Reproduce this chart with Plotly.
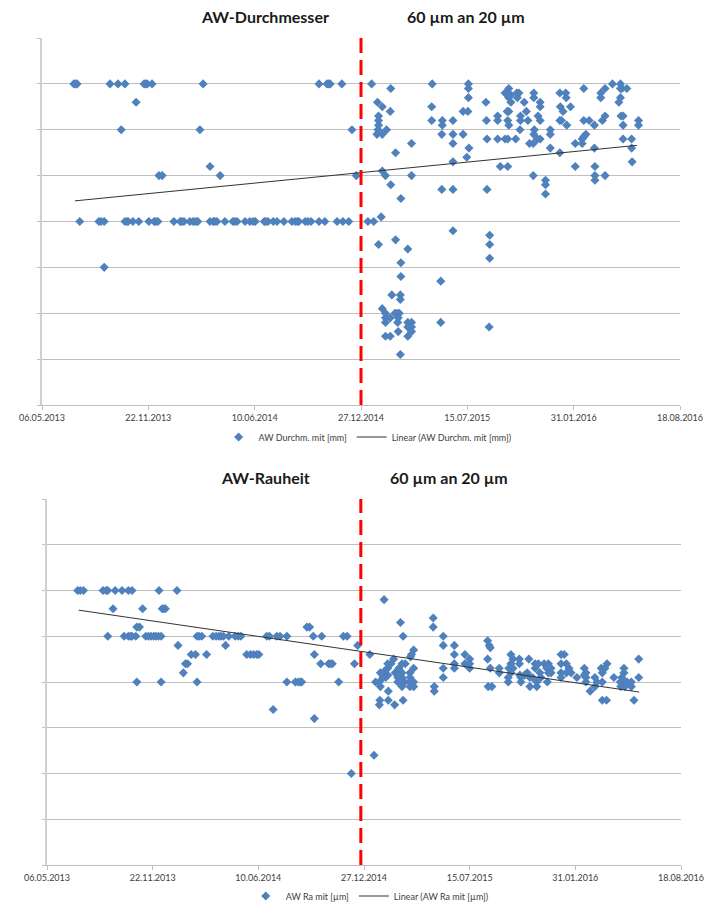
import numpy as np
import pandas as pd
import plotly.graph_objects as go

# ---------------- data ----------------
base_date = "2013-05-06"          # first tick
axis_end = "2016-08-18"           # last tick
tick_step_days = 200
cut_top = "2014-12-27"            # change 60 µm -> 20 µm (upper chart)
cut_bottom = "2014-12-21"         # change 60 µm -> 20 µm (lower chart)
tick_labels = ["06.05.2013", "22.11.2013", "10.06.2014", "27.12.2014",
               "15.07.2015", "31.01.2016", "18.08.2016"]

title_top = ["AW-Durchmesser", "60 µm an 20 µm"]
title_bottom = ["AW-Rauheit", "60 µm an 20 µm"]
name_d = "AW Durchm. mit [mm]"
name_r = "AW Ra mit [µm]"

# AW diameter: days after base_date, value in grid units
d_days = [60, 63, 66, 128, 143, 156, 192, 195, 198, 207, 303, 521, 536, 539, 542, 564,
          177, 149, 297, 583, 316, 220, 226, 335, 591,
          71, 107, 111, 117, 156, 160, 162, 171, 182, 201, 211, 214, 218, 248, 260, 263,
          267, 278, 284, 288, 292, 293, 316, 322, 325, 329, 344, 359, 363, 367, 382, 391,
          397, 401, 418, 421, 425, 435, 442, 455, 470, 476, 480, 483, 495, 500, 506, 521,
          532, 555, 566, 577, 117,
          620, 656, 631, 640, 655, 633, 633, 633, 632, 630, 640, 648, 665, 695, 640, 646,
          656, 675, 695, 613, 624, 638, 633, 665, 688, 675, 675, 658, 674, 674, 640, 646,
          646, 646, 655, 664, 668, 672, 670, 669, 646, 655, 670, 688, 688, 688, 695, 695,
          695, 692, 674, 750, 750, 841, 734, 733, 733, 753, 753, 752, 773, 773, 773, 773,
          752, 773, 773, 792, 792, 802, 802, 802, 801, 803, 799, 835, 836, 837, 837, 842,
          842, 842, 857, 857, 857, 862, 871, 871, 876, 876, 891, 878, 878, 876, 881, 878,
          882, 893, 897, 894, 907, 875, 878, 876, 878, 900, 900, 911, 914, 899, 917, 924,
          925, 926, 925, 925, 937, 937, 933, 937, 932, 937, 956, 956, 956, 924, 947, 947,
          947, 974, 985, 986, 975, 994, 980, 974, 977, 987, 974, 1003, 1003, 1019, 1019,
          1029, 1039, 1016, 1019, 1023, 1016, 1039, 1040, 1040, 1040, 1059, 1051, 1051,
          1059, 1073, 1054, 1059, 1088, 1088, 1091, 1100, 1088, 1085, 1089, 1093, 1093,
          1093, 1109, 1109, 1110, 1122, 1122]
d_vals = [7, 7, 7, 7, 7, 7, 7, 7, 7, 7, 7, 7, 7, 7, 7, 7,
          6.6, 6, 6, 6, 5.2, 5, 5, 5, 5,
          4, 4, 4, 4, 4, 4, 4, 4, 4, 4, 4, 4, 4, 4, 4, 4,
          4, 4, 4, 4, 4, 4, 4, 4, 4, 4, 4, 4, 4, 4, 4, 4,
          4, 4, 4, 4, 4, 4, 4, 4, 4, 4, 4, 4, 4, 4, 4, 4,
          4, 4, 4, 4, 3,
          7.0, 6.9, 6.6, 6.5, 6.4, 6.3, 6.2, 6.1, 6.0, 5.9, 5.9, 6.0, 5.5, 5.7, 5.1, 5.0,
          4.8, 4.5, 5.0, 4.0, 4.0, 4.1, 3.5, 3.6, 3.4, 3.1, 2.8, 2.4, 2.4, 2.3, 2.1, 2.0,
          1.9, 1.8, 1.9, 2.0, 2.0, 2.0, 1.9, 1.8, 1.5, 1.5, 1.6, 1.8, 1.7, 1.5, 1.8, 1.7,
          1.6, 1.7, 1.1, 2.7, 1.8, 1.7, 7.0, 6.5, 6.2, 6.2, 6.1, 5.9, 6.2, 5.9, 5.7, 5.3,
          4.7, 4.7, 3.8, 6.4, 5.9, 7.0, 6.9, 6.7, 6.4, 5.6, 5.4, 6.6, 6.2, 5.8, 4.7, 3.7,
          3.5, 3.2, 6.3, 6.2, 5.8, 5.2, 6.8, 5.8, 5.2, 5.8, 5.8, 6.9, 6.8, 6.75, 6.75, 6.7,
          6.6, 6.8, 6.8, 6.7, 6.6, 6.4, 6.4, 6.2, 6.1, 6.3, 6.2, 6.4, 6.2, 6.0, 5.7, 5.7,
          5.9, 6.0, 6.8, 6.7, 6.6, 6.5, 6.3, 6.2, 5.8, 5.8, 6.0, 5.9, 5.6, 5.0, 4.9, 4.8,
          4.6, 6.8, 6.8, 6.7, 6.5, 6.5, 6.4, 6.2, 6.2, 6.1, 5.5, 5.7, 5.2, 6.9, 6.2,
          6.2, 6.1, 5.8, 5.85, 5.9, 5.7, 5.6, 5.2, 5.0, 4.9, 5.0, 6.8, 6.7,
          6.9, 7.0, 6.2, 6.3, 7.0, 6.9, 6.9, 6.9, 6.7, 6.6, 6.3, 6.3, 6.1,
          5.8, 5.8, 5.6, 5.3, 6.2, 6.1]
# linear trendline of the diameter series, read at its two ends
d_trend_days = [62, 1119]
d_trend_vals = [4.45, 5.66]

# AW roughness Ra: days after base_date, value in grid units
r_days = [58, 63, 69, 106, 112, 115, 129, 142, 154, 161, 212, 246,
          125, 181, 218, 221, 224, 170, 175, 492, 497,
          115, 146, 154, 158, 161, 168, 187, 192, 197, 202, 206, 211, 216, 284, 288, 293,
          314, 320, 325, 329, 334, 344, 356, 362, 367, 416, 421, 435, 441, 454, 504, 520,
          561, 568,
          248, 338, 588, 273, 281, 302, 378, 385, 391, 397, 401, 506,
          262, 266, 518, 533, 536, 540, 582, 258,
          170, 216, 284, 454, 470, 475, 479, 482, 552, 428, 506, 576,
          638, 611, 669, 674, 731, 731, 750, 750, 750, 750, 771, 771, 771, 771, 791, 791,
          800, 800, 800, 733, 733, 834, 837, 839, 834, 839, 835, 842, 856, 856,
          694, 690, 688, 694, 687, 687, 694, 694, 687, 687, 656, 651, 645, 645, 672, 678,
          666, 659, 664, 672, 672, 672, 677, 672, 664, 640, 640, 645, 631, 636, 641, 622,
          629, 631, 646, 630, 629, 646, 658, 674, 619,
          878, 882, 878, 874, 882, 878, 894, 894, 873, 873, 897, 897, 912, 909, 914, 914,
          924, 930, 924, 933, 941, 946, 949, 949, 935, 927, 927, 947, 954, 954, 973, 979,
          973, 973, 973, 983, 988, 983, 992, 1003, 1017, 1020, 1017, 1020, 1020, 1028,
          1037, 1041, 1037, 1049, 1051, 1060, 1056, 1051, 1051, 1059, 1073, 1092, 1092,
          1085, 1094, 1086, 1094, 1088, 1098, 1106, 1106, 1111, 1120, 1120, 904, 919, 895]
r_vals = [6, 6, 6, 6, 6, 6, 6, 6, 6, 6, 6, 6,
          5.6, 5.6, 5.6, 5.6, 5.6, 5.2, 5.2, 5.2, 5.2,
          5, 5, 5, 5, 5, 5, 5, 5, 5, 5, 5, 5, 5, 5, 5, 5,
          5, 5, 5, 5, 5, 5, 5, 5, 5, 5, 5, 5, 5, 5, 5, 5,
          5, 5,
          4.8, 4.8, 4.8, 4.6, 4.6, 4.6, 4.6, 4.6, 4.6, 4.6, 4.6, 4.6,
          4.4, 4.4, 4.4, 4.4, 4.4, 4.4, 4.4, 4.2,
          4, 4, 4, 4, 4, 4, 4, 4, 4, 3.4, 3.2, 2.0,
          5.8, 4.6, 5.3, 5.0, 5.4, 5.2, 5.0, 4.8, 4.3, 4.1, 4.8, 4.6, 4.4, 4.3, 4.6, 4.4,
          4.5, 4.4, 4.3, 3.9, 3.8, 4.9, 4.8, 4.75, 4.5, 4.3, 3.9, 3.9, 4.3, 4.2,
          4.7, 4.6, 4.55, 4.3, 4.2, 4.1, 4.0, 3.9, 4.0, 3.9, 4.5, 4.4, 4.4, 4.3, 4.4, 4.4,
          4.3, 4.2, 4.1, 4.2, 4.1, 4.0, 4.0, 3.9, 4.0, 4.25, 4.15, 4.15, 4.2, 4.1, 4.1, 4.0,
          4.0, 3.9, 3.8, 3.6, 3.5, 3.6, 3.5, 3.6, 2.4,
          4.6, 4.5, 4.4, 4.3, 4.3, 4.2, 4.5, 4.4, 4.1, 4.0, 4.1, 4.0, 4.5, 4.2, 4.1, 3.9,
          4.4, 4.4, 4.3, 4.2, 4.4, 4.3, 4.4, 4.2, 4.1, 4.0, 3.9, 4.0, 4.3, 4.2, 4.6, 4.6,
          4.4, 4.2, 4.1, 4.4, 4.3, 4.2, 4.2, 4.1, 4.3, 4.2, 4.15, 4.1, 4.0, 3.8,
          4.1, 4.0, 3.9, 4.3, 4.2, 4.4, 4.3, 4.0, 3.6, 3.6, 4.1, 4.3, 4.2,
          4.0, 4.0, 3.9, 3.9, 4.1, 4.0, 4.0, 3.9, 3.6, 4.5, 4.1, 4.15, 4.1, 4.15]
# linear trendline of the roughness series, read at its two ends
r_trend_days = [60, 1121]
r_trend_vals = [5.57, 3.78]

# ---------------- styling ----------------
W, H = 711, 906
BLUE = "#4F81BD"
GRID = "#BFBFBF"
AXIS = "#BFBFBF"
TXT = "#404040"
FONT = "Lato"


def to_dates(days):
    return pd.Timestamp(base_date) + pd.to_timedelta(np.asarray(days, dtype=float), unit="D")


fig = go.Figure()

# upper chart
fig.add_trace(go.Scatter(x=to_dates(d_days), y=d_vals, mode="markers", name=name_d,
                         marker=dict(symbol="diamond", size=7, color=BLUE),
                         xaxis="x", yaxis="y", legend="legend"))
fig.add_trace(go.Scatter(x=to_dates(d_trend_days), y=d_trend_vals, mode="lines",
                         name="Linear (" + name_d + ")",
                         line=dict(color="#333333", width=1),
                         xaxis="x", yaxis="y", legend="legend"))

# lower chart
fig.add_trace(go.Scatter(x=to_dates(r_days), y=r_vals, mode="markers", name=name_r,
                         marker=dict(symbol="diamond", size=7, color=BLUE),
                         xaxis="x2", yaxis="y2", legend="legend2"))
fig.add_trace(go.Scatter(x=to_dates(r_trend_days), y=r_trend_vals, mode="lines",
                         name="Linear (" + name_r + ")",
                         line=dict(color="#333333", width=1),
                         xaxis="x2", yaxis="y2", legend="legend2"))

tickvals = pd.date_range(base_date, axis_end, freq=f"{tick_step_days}D")

xcommon = dict(type="date", range=[base_date, axis_end], tickvals=tickvals,
               ticktext=tick_labels, showgrid=False, showline=True, linecolor=AXIS,
               linewidth=1, ticks="outside", ticklen=4, tickcolor=AXIS,
               tickfont=dict(family=FONT, size=9, color=TXT), zeroline=False,
               automargin=False)
ycommon = dict(range=[0, 8], dtick=1, showticklabels=False, showgrid=True,
               gridcolor=GRID, gridwidth=1, showline=True, linecolor="#D0D0D0",
               linewidth=2, ticks="outside", ticklen=3, tickcolor=GRID, zeroline=False,
               automargin=False)

fig.update_layout(
    width=W, height=H,
    margin=dict(l=0, r=0, t=0, b=0, autoexpand=False),
    paper_bgcolor="white", plot_bgcolor="white",
    xaxis=dict(domain=[42 / W, 680 / W], anchor="y", **xcommon),
    yaxis=dict(domain=[1 - 405 / H, 1 - 38 / H], anchor="x", **ycommon),
    xaxis2=dict(domain=[47 / W, 681 / W], anchor="y2", **xcommon),
    yaxis2=dict(domain=[1 - 865 / H, 1 - 499 / H], anchor="x2", **ycommon),
    legend=dict(orientation="h", x=0.517, xanchor="center", y=1 - 437 / H,
                yanchor="middle", font=dict(family=FONT, size=9, color=TXT),
                bgcolor="rgba(0,0,0,0)", itemwidth=30),
    legend2=dict(orientation="h", x=0.52, xanchor="center", y=1 - 896 / H,
                 yanchor="middle", font=dict(family=FONT, size=9, color=TXT),
                 bgcolor="rgba(0,0,0,0)", itemwidth=30),
    showlegend=True,
)

red = dict(color="#FF0000", width=3, dash="15px,7px")
fig.add_shape(type="line", xref="x", yref="y domain", x0=cut_top, x1=cut_top,
              y0=0, y1=1, line=red)
fig.add_shape(type="line", xref="x2", yref="y2 domain", x0=cut_bottom, x1=cut_bottom,
              y0=0, y1=1, line=red)

tfont = dict(family=FONT, size=16, color="#1a1a1a", weight="bold")
for txt, xc, yc in [(title_top[0], 265, 17), (title_top[1], 466, 17),
                    (title_bottom[0], 265, 477), (title_bottom[1], 449, 477)]:
    fig.add_annotation(text=txt, xref="paper", yref="paper", x=xc / W, y=1 - yc / H,
                       xanchor="center", yanchor="middle", showarrow=False, font=tfont)

fig.write_html("out.html", config={"displayModeBar": False},
               post_script="document.body.style.margin='0';"
                           "document.body.style.overflow='hidden';")
